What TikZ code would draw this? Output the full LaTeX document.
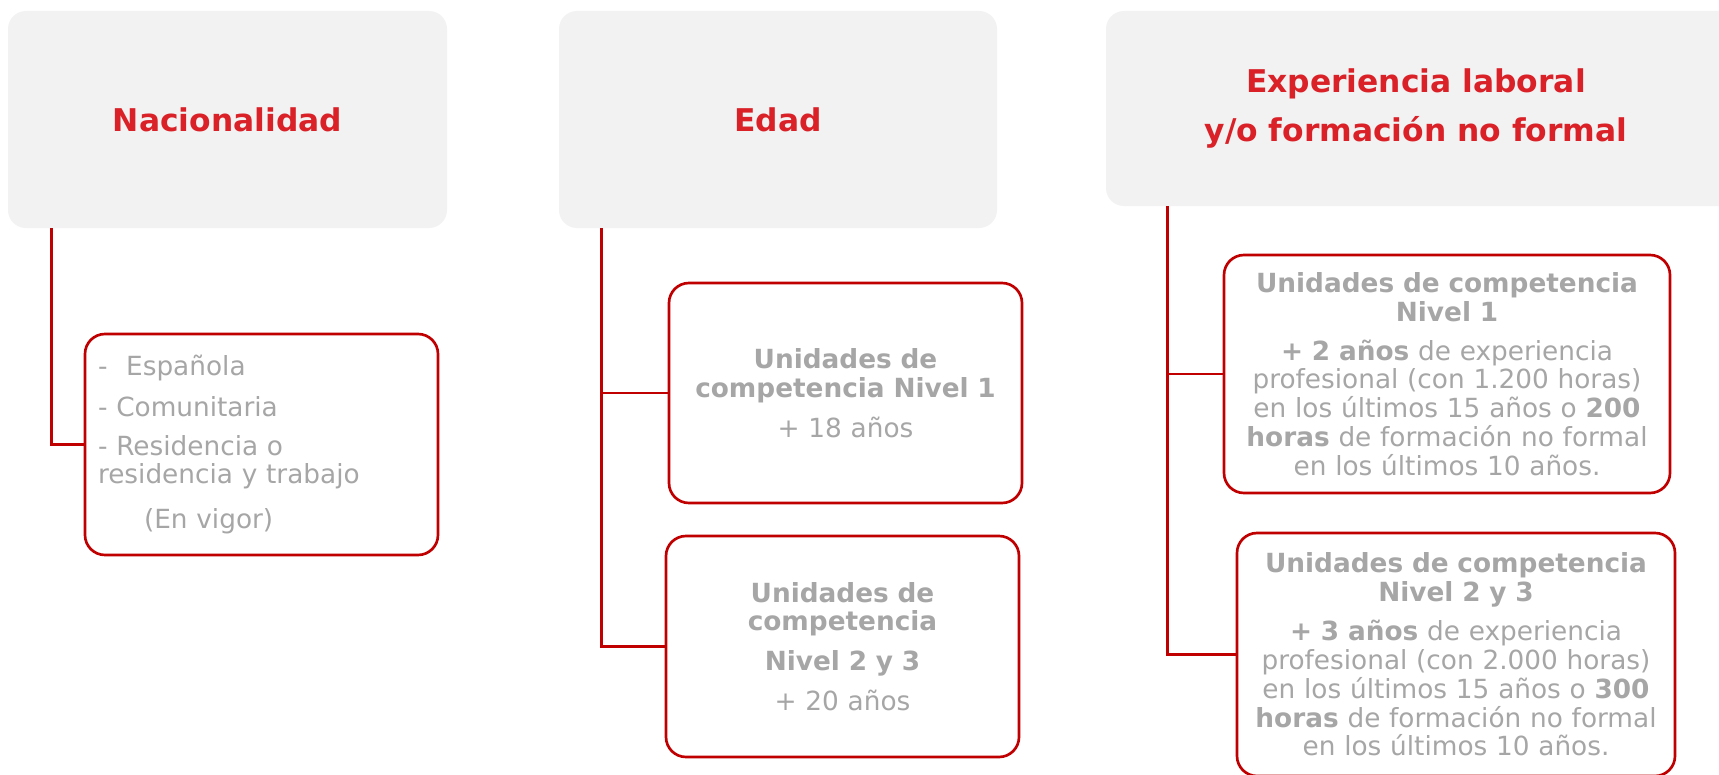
\documentclass[tikz,border=0pt]{standalone}
\usepackage{fontspec}
\setmainfont{DejaVu Sans}
\definecolor{hred}{HTML}{DA2128}
\definecolor{bred}{HTML}{C00000}
\definecolor{tgray}{HTML}{A6A6A6}
\definecolor{hfill}{HTML}{F2F2F2}
\begin{document}
\begin{tikzpicture}[x=0.75pt,y=-0.75pt,
  head/.style={fill=hfill, rounded corners=13.5pt, inner sep=0pt, text=hred,
    font=\bfseries\fontsize{23.5pt}{36.75pt}\selectfont, align=center},
  headtext/.style={inner sep=0pt, text=hred,
    font=\bfseries\fontsize{23.5pt}{36.75pt}\selectfont, align=center},
  card/.style={draw=bred, line width=2pt, rounded corners=15pt, fill=white,
    inner sep=0pt, text=tgray, font=\fontsize{19.75pt}{21.6pt}\selectfont},
  conn/.style={draw=bred, line width=2pt}]
\useasboundingbox (0,0) rectangle (1719,774);
\clip (0,0) rectangle (1719,774);
\fill[white] (0,0) rectangle (1719,774);
% headers
\node[head, minimum width=329.25pt, minimum height=162.75pt] (h1) at (227.5,119.5) {Nacionalidad};
\node[head, minimum width=328.5pt, minimum height=162.75pt] (h2) at (778,119.5) {Edad};
\node[head, minimum width=490.5pt, minimum height=146.25pt] (h3) at (1433,108.5) {};
\node[headtext] (h3t) at (1416,108.5) {Experiencia laboral\\y/o formación no formal};
% cards
\node[card, minimum width=264.75pt, minimum height=165.75pt, text width=245.25pt, align=left] (n1) at (261.5,444.5)
  {-\hspace{14pt}Española\\[9.2pt]- Comunitaria\\[7pt]- Residencia o\\residencia y trabajo\\[11.5pt]\hspace*{34.5pt}(En vigor)};
\node[card, minimum width=264.75pt, minimum height=165pt, text width=255pt, align=center] (e1) at (845.5,393)
  {\textbf{Unidades de}\\\textbf{competencia Nivel 1}\\[8.25pt]+ 18 años};
\node[card, minimum width=264.75pt, minimum height=165.75pt, text width=255pt, align=center] (e2) at (842.5,646.5)
  {\textbf{Unidades de}\\\textbf{competencia}\\[8.25pt]\textbf{Nivel 2 y 3}\\[8.25pt]+ 20 años};
\node[card, minimum width=334.5pt, minimum height=178.5pt, text width=315pt, align=center] (x1) at (1447,374)
  {\textbf{Unidades de competencia}\\\textbf{Nivel 1}\\[7.75pt]\textbf{+ 2 años} de experiencia\\profesional (con 1.200 horas)\\en los últimos 15 años o \textbf{200}\\\textbf{horas} de formación no formal\\en los últimos 10 años.};
\node[card, minimum width=328.5pt, minimum height=182.25pt, text width=311pt, align=center] (x2) at (1456,654.5)
  {\textbf{Unidades de competencia}\\\textbf{Nivel 2 y 3}\\[7.75pt]\textbf{+ 3 años} de experiencia\\profesional (con 2.000 horas)\\en los últimos 15 años o \textbf{300}\\\textbf{horas} de formación no formal\\en los últimos 10 años.};
% connectors
\draw[conn] ([xshift=32.8pt]h1.south west) |- (n1.west);
\draw[conn] ([xshift=32.25pt]h2.south west) |- (e1.west);
\draw[conn] ([xshift=32.25pt]h2.south west) |- (e2.west);
\draw[conn] ([xshift=46.5pt]h3.south west) |- (x1.west);
\draw[conn] ([xshift=46.5pt]h3.south west) |- (x2.west);
\end{tikzpicture}
\end{document}
